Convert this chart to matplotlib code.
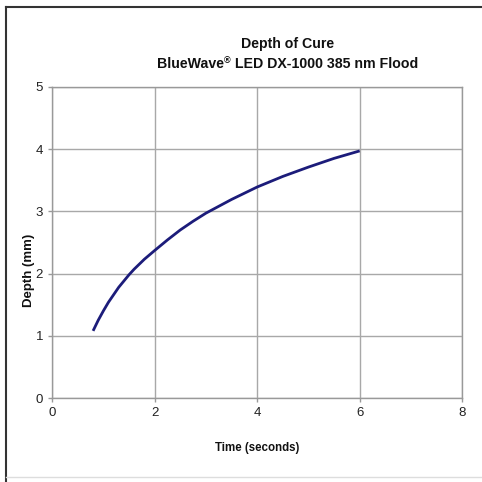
import matplotlib
matplotlib.use("Agg")
import matplotlib.pyplot as plt
from matplotlib.lines import Line2D

# values
time_s = [0.8, 0.9, 1.0, 1.1, 1.2, 1.3, 1.4, 1.5, 1.6, 1.8, 2.0, 2.25, 2.5, 2.75,
          3.0, 3.5, 4.0, 4.5, 5.0, 5.5, 6.0]
depth_mm = [1.08, 1.25, 1.40, 1.54, 1.66, 1.78, 1.88, 1.98, 2.07, 2.23, 2.37, 2.54, 2.70, 2.84,
            2.97, 3.19, 3.39, 3.56, 3.71, 3.85, 3.97]
x_ticks = [0, 2, 4, 6, 8]
y_ticks = [0, 1, 2, 3, 4, 5]

plt.rcParams['font.family'] = ['Liberation Sans', 'DejaVu Sans']

fig = plt.figure(figsize=(4.82, 4.82), dpi=100)
ax = fig.add_axes([0.108, 0.174, 0.851, 0.646])

ax.plot(time_s, depth_mm, color="#1c1c7a", lw=2.0, solid_capstyle="butt")

ax.set_xlim(0, 8)
ax.set_ylim(0, 5)
ax.set_xticks(x_ticks)
ax.set_yticks(y_ticks)
ax.grid(True, color="#a8a8a8", lw=1.0)
ax.set_axisbelow(True)
for s in ax.spines.values():
    s.set_color("#999999")
    s.set_linewidth(1.0)
ax.tick_params(colors="#999999", labelcolor="#222222", labelsize=9.5, length=3, width=1)

# titles: second line built from pieces so the (R) sits as superscript
fig.text(0.597, 0.900, "Depth of Cure", ha="center", va="baseline",
         fontsize=10.2, fontweight="bold", color="#111111")
r = fig.canvas.get_renderer()
parts = [("BlueWave", 10.2, 0.0), ("\u00ae", 6.5, 0.011), (" LED DX-1000 385 nm Flood", 10.2, 0.0)]
items = []
total = 0
for s, fs, dy in parts:
    t = fig.text(0, 0.859 + dy, s, ha="left", va="baseline", fontsize=fs,
                 fontweight="bold", color="#111111")
    w = t.get_window_extent(renderer=r).width / fig.bbox.width
    items.append((t, w))
    total += w
x0 = 0.597 - total / 2
for t, w in items:
    t.set_x(x0)
    x0 += w

fig.text(0.533, 0.071, "Time (seconds)", ha="center", va="center",
         fontsize=8.3, fontweight="bold", color="#111111")
fig.text(0.060, 0.440, "Depth (mm)", ha="center", va="center", rotation=90,
         fontsize=9.5, fontweight="bold", color="#111111")

# frame around the chart (top and left visible, faint bottom)
fig.add_artist(Line2D([0.012, 1.0], [0.986, 0.986], color="#333333", lw=1.5, transform=fig.transFigure))
fig.add_artist(Line2D([0.013, 0.013], [0.0, 0.986], color="#333333", lw=1.5, transform=fig.transFigure))
fig.add_artist(Line2D([0.013, 1.0], [0.010, 0.010], color="#dddddd", lw=1.0, transform=fig.transFigure))

fig.savefig("out.png", dpi=100)
